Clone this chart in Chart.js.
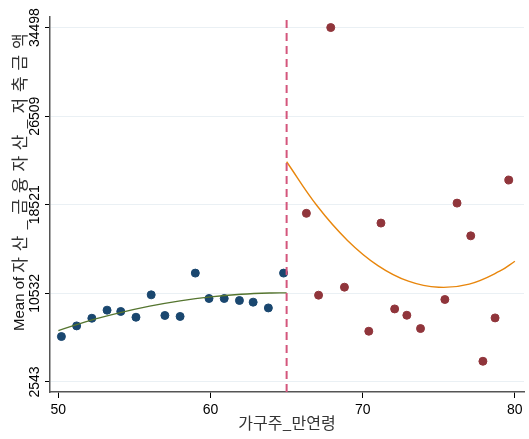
<!DOCTYPE html>
<html>
<head>
<meta charset="utf-8">
<script src="https://cdn.jsdelivr.net/npm/chart.js@4/dist/chart.umd.min.js"></script>
<style>
  body { margin: 0; background: #fff; }
  #wrap { width: 529px; height: 439px; }
</style>
</head>
<body>
<div id="wrap"><canvas id="scatterChart" width="529" height="439"></canvas></div>
<script>
// points below the cutoff age (navy)
const leftAge = [50.2, 51.2, 52.2, 53.2, 54.1, 55.1, 56.1, 57.0, 58.0, 59.0, 59.9, 60.9, 61.9, 62.8, 63.8, 64.8];
const leftVal = [6640, 7600, 8290, 9020, 8900, 8380, 10400, 8540, 8450, 12360, 10070, 10070, 9890, 9740, 9220, 12360];

// points above the cutoff age (maroon)
const rightAge = [66.3, 67.1, 67.9, 68.8, 70.4, 71.2, 72.1, 72.9, 73.8, 75.4, 76.2, 77.1, 77.9, 78.7, 79.6];
const rightVal = [17750, 10370, 34498, 11090, 7120, 16870, 9130, 8560, 7360, 9980, 18670, 15720, 4410, 8320, 20750];

// fitted curves
const leftFitAge = [50, 52, 54, 56, 58, 60, 62, 64, 65];
const leftFitVal = [7180, 8050, 8770, 9380, 9860, 10220, 10450, 10570, 10580];
const rightFitAge = [65, 67, 69, 71, 73, 75, 77, 79, 80];
const rightFitVal = [22400, 18430, 15310, 13040, 11630, 11080, 11370, 12530, 13430];

const cutoff = 65;
const xTicks = [50, 60, 70, 80];
const yTicks = [2543, 10532, 18521, 26509, 34498];
const yRange = [1640, 35450];

const xTitle = '가구주_만연령';
const yTitleLatin = 'Mean of ';
const yTitleKor = '자산_금융자산_저축금액';

const toXY = (xs, ys) => xs.map((x, i) => ({ x: x, y: ys[i] }));

// y title drawn by hand so the hangul can be spaced like the original
const yTitlePlugin = {
  id: 'yTitle',
  afterDraw(c) {
    const ctx = c.ctx;
    ctx.save();
    ctx.translate(19.5, 331);
    ctx.rotate(-Math.PI / 2);
    ctx.textBaseline = 'middle';
    ctx.fillStyle = '#111';
    ctx.font = '15px "Liberation Sans", Arial, sans-serif';
    ctx.fillText(yTitleLatin, 0, 0);
    const w = ctx.measureText(yTitleLatin).width;
    ctx.font = '17px "Noto Sans CJK KR", sans-serif';
    ctx.letterSpacing = '5.8px';
    ctx.fillStyle = '#333';
    ctx.fillText(yTitleKor, w, 0);
    ctx.restore();
  }
};

const ctx = document.getElementById('scatterChart').getContext('2d');

new Chart(ctx, {
  type: 'scatter',
  data: {
    datasets: [
      {
        type: 'line',
        data: [{ x: cutoff, y: yRange[0] }, { x: cutoff, y: yRange[1] }],
        borderColor: '#d4567c',
        borderWidth: 2,
        borderDash: [8, 5],
        pointRadius: 0
      },
      {
        type: 'line',
        data: toXY(leftFitAge, leftFitVal),
        borderColor: '#55752f',
        borderWidth: 1.4,
        tension: 0.4,
        pointRadius: 0
      },
      {
        type: 'line',
        data: toXY(rightFitAge, rightFitVal),
        borderColor: '#e8860c',
        borderWidth: 1.4,
        tension: 0.4,
        pointRadius: 0
      },
      {
        data: toXY(leftAge, leftVal),
        backgroundColor: '#1a476f',
        borderColor: '#1a476f',
        pointRadius: 4
      },
      {
        data: toXY(rightAge, rightVal),
        backgroundColor: '#90353b',
        borderColor: '#90353b',
        pointRadius: 4
      }
    ]
  },
  options: {
    responsive: false,
    animation: false,
    layout: { padding: { top: 17, right: 3, left: 0, bottom: 0 } },
    plugins: {
      legend: { display: false },
      tooltip: { enabled: false }
    },
    scales: {
      x: {
        type: 'linear',
        min: 49.45,
        max: 80.6,
        afterBuildTicks: s => { s.ticks = xTicks.map(v => ({ value: v })); },
        afterFit: s => { s.height = 47; },
        grid: { drawOnChartArea: false, tickColor: '#000', tickLength: 6 },
        border: { color: '#555', width: 1.5 },
        ticks: {
          color: '#000',
          padding: 4,
          maxRotation: 0,
          autoSkip: false,
          font: { family: '"Liberation Sans", Arial', size: 14 },
          callback: v => String(v)
        },
        title: {
          display: true,
          text: xTitle,
          color: '#333',
          font: { family: '"Noto Sans CJK KR", sans-serif', size: 16 },
          padding: { top: 0, bottom: 6 }
        }
      },
      y: {
        type: 'linear',
        min: yRange[0],
        max: yRange[1],
        afterBuildTicks: s => { s.ticks = yTicks.map(v => ({ value: v })); },
        afterFit: s => { s.width = 50; },
        grid: { color: '#eaf0f4', tickColor: '#000', tickLength: 5, lineWidth: 1 },
        border: { color: '#555', width: 1.5 },
        ticks: {
          color: '#000',
          padding: -10,
          minRotation: 90,
          maxRotation: 90,
          crossAlign: 'center',
          autoSkip: false,
          font: { family: '"Liberation Sans", Arial', size: 14 },
          callback: v => String(v)
        }
      }
    }
  },
  plugins: [yTitlePlugin]
});
</script>
</body>
</html>
